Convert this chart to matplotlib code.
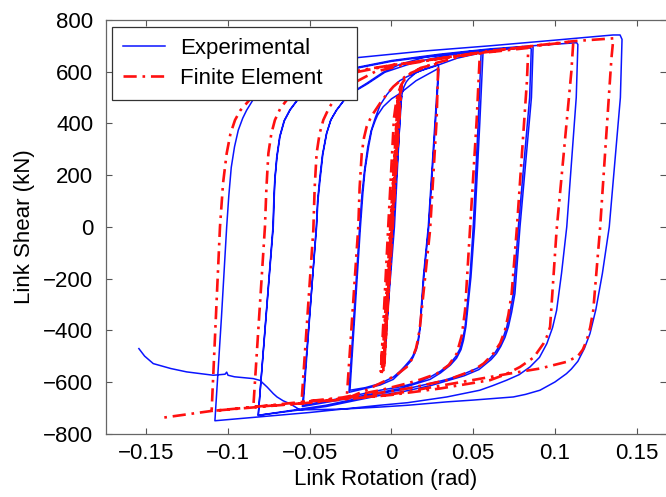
import matplotlib
matplotlib.use("Agg")
import matplotlib.pyplot as plt

plt.rcParams['font.family'] = ['Liberation Sans', 'DejaVu Sans']

# ---------------- Experimental (blue) branches: (rotation rad, shear kN) ----------------
exp_small = [(0.0, 0), (0.0050, 470), (0.0056, 490), (-0.0038, -480), (-0.0044, -500),
             (0.0058, 500), (0.0062, 505), (-0.0042, -505), (-0.0046, -515)]
exp_load1 = [(-0.0046, -515), (0.0018, 0), (0.0045, 330), (0.0055, 470), (0.0065, 515),
             (0.0075, 540), (0.0090, 560), (0.0105, 572), (0.0150, 596), (0.0210, 612),
             (0.0280, 626)]
exp_unload1 = [(0.0288, 622), (0.0225, 0), (0.0195, -194), (0.0174, -387), (0.0162, -440),
               (0.0150, -470), (0.0130, -500), (0.0113, -516), (0.0080, -540),
               (0.0050, -560), (0.0011, -581), (-0.0070, -606), (-0.0160, -622),
               (-0.0254, -632)]
exp_load1b = [(-0.0254, -632), (-0.0190, 0), (-0.0175, 130), (-0.0162, 219), (-0.0140, 310),
              (-0.0121, 374), (-0.0100, 410), (-0.0085, 432), (-0.0050, 465), (0.0000, 495),
              (0.0052, 516), (0.0150, 565), (0.0285, 612)]
exp_unload1b = [(0.0290, 608), (0.0228, 0), (0.0198, -194), (0.0176, -387), (0.0164, -445),
                (0.0152, -475), (0.0132, -505), (0.0115, -522), (0.0060, -560),
                (0.0011, -590), (-0.0070, -612), (-0.0260, -640)]
exp_load2 = [(-0.0260, -640), (-0.0195, 0), (-0.0180, 130), (-0.0165, 219), (-0.0145, 310),
             (-0.0125, 370), (-0.0100, 420), (-0.0070, 470), (-0.0030, 510), (0.0011, 542),
             (0.0050, 565), (0.0093, 580), (0.0170, 602), (0.0256, 619), (0.0400, 652),
             (0.0541, 672)]
exp_unload2 = [(0.0548, 668), (0.0530, 400), (0.0500, 0), (0.0480, -194), (0.0450, -387),
               (0.0435, -435), (0.0420, -470), (0.0395, -500), (0.0358, -529),
               (0.0300, -558), (0.0236, -581), (0.0150, -603), (0.0052, -619),
               (-0.0070, -632), (-0.0300, -662), (-0.0540, -690)]
exp_load2b = [(-0.0540, -690), (-0.0460, 0), (-0.0452, 100), (-0.0440, 181), (-0.0422, 280),
              (-0.0398, 360), (-0.0372, 412), (-0.0338, 450), (-0.0292, 488), (-0.0236, 520),
              (-0.0150, 552), (-0.0040, 598), (0.0150, 638), (0.0350, 664), (0.0555, 680)]
exp_unload2b = [(0.0560, 676), (0.0540, 400), (0.0508, 0), (0.0486, -194), (0.0455, -387),
                (0.0440, -440), (0.0425, -475), (0.0398, -508), (0.0360, -535),
                (0.0300, -565), (0.0236, -590), (0.0052, -626), (-0.0070, -640),
                (-0.0300, -668), (-0.0545, -695)]
exp_load3 = [(-0.0545, -695), (-0.0458, 0), (-0.0450, 100), (-0.0437, 181), (-0.0420, 280),
             (-0.0396, 362), (-0.0370, 415), (-0.0335, 452), (-0.0290, 490), (-0.0234, 523),
             (-0.0152, 555), (-0.0050, 598), (0.0050, 628), (0.0200, 655), (0.0500, 680),
             (0.0847, 692)]
exp_unload3 = [(0.0855, 688), (0.0845, 500), (0.0776, 0), (0.0745, -258), (0.0725, -330),
               (0.0705, -387), (0.0685, -425), (0.0660, -460), (0.0635, -485),
               (0.0603, -508), (0.0530, -545), (0.0439, -570), (0.0340, -590),
               (0.0236, -606), (0.0080, -628), (-0.0070, -645), (-0.0400, -690),
               (-0.0815, -729)]
exp_load3b = [(-0.0815, -729), (-0.0725, 0), (-0.0720, 100), (-0.0714, 181), (-0.0702, 270),
              (-0.0684, 349), (-0.0657, 410), (-0.0622, 452), (-0.0577, 490), (-0.0520, 523),
              (-0.0400, 570), (-0.0200, 615), (0.0000, 640), (0.0300, 665), (0.0600, 685),
              (0.0860, 698)]
exp_unload3b = [(0.0866, 694), (0.0856, 500), (0.0786, 0), (0.0755, -258), (0.0735, -330),
                (0.0715, -387), (0.0694, -428), (0.0668, -463), (0.0642, -490),
                (0.0610, -513), (0.0535, -552), (0.0445, -576), (0.0240, -614),
                (0.0080, -636), (-0.0070, -652), (-0.0400, -695), (-0.0815, -729)]
exp_load4 = [(-0.0815, -729), (-0.0723, 0), (-0.0718, 100), (-0.0713, 181), (-0.0700, 270),
             (-0.0682, 349), (-0.0655, 410), (-0.0620, 452), (-0.0575, 490), (-0.0519, 523),
             (-0.0460, 550), (-0.0400, 572), (-0.0300, 598), (-0.0200, 618), (0.0000, 643),
             (0.0300, 668), (0.0600, 688), (0.0900, 702), (0.1133, 712)]
exp_unload4 = [(0.1140, 705), (0.1130, 500), (0.1072, 0), (0.1040, -180), (0.1010, -323),
               (0.0985, -390), (0.0950, -452), (0.0905, -505), (0.0847, -542),
               (0.0780, -572), (0.0705, -593), (0.0620, -614), (0.0540, -632),
               (0.0338, -658), (0.0100, -680), (-0.0070, -690), (-0.0500, -718),
               (-0.1080, -750)]
exp_load5 = [(-0.1080, -750), (-0.1040, -350), (-0.1008, 0), (-0.0995, 120), (-0.0980, 230),
             (-0.0960, 310), (-0.0937, 374), (-0.0910, 420), (-0.0886, 451), (-0.0850, 488),
             (-0.0804, 523), (-0.0750, 550), (-0.0700, 570), (-0.0600, 598), (-0.0500, 620),
             (-0.0350, 640), (-0.0200, 655), (0.0200, 680), (0.0600, 700), (0.1000, 722),
             (0.1355, 742), (0.1398, 742)]
exp_unload5 = [(0.1410, 725), (0.1400, 500), (0.1332, 0), (0.1290, -180), (0.1250, -320),
               (0.1214, -413), (0.1180, -470), (0.1140, -520), (0.1100, -550),
               (0.1070, -568), (0.1000, -600), (0.0908, -632), (0.0820, -648),
               (0.0745, -658), (0.0500, -670), (0.0338, -677), (0.0100, -690),
               (-0.0070, -697), (-0.0300, -705), (-0.0560, -708), (-0.0621, -684)]
exp_failure = [(-0.0621, -684), (-0.0662, -673), (-0.0700, -658), (-0.0723, -645),
               (-0.0760, -620), (-0.0804, -594), (-0.0845, -587), (-0.0960, -580),
               (-0.1000, -574), (-0.1008, -562), (-0.1018, -570), (-0.1090, -574),
               (-0.1253, -561), (-0.1350, -548), (-0.1457, -529), (-0.1510, -500),
               (-0.1545, -471)]

# ---------------- Finite element (red) branches ----------------
fe_small = [(0.0, 0), (0.0045, 520), (-0.0045, -545), (0.0060, 548), (-0.0060, -567),
            (0.0040, 510), (-0.0050, -555), (0.0055, 540), (-0.0065, -560)]
fe_load1 = [(-0.0065, -560), (-0.0020, 0), (0.0015, 420), (0.0030, 490), (0.0045, 525),
            (0.0060, 550), (0.0085, 574), (0.0110, 590), (0.0180, 615), (0.0286, 632)]
fe_unload1 = [(0.0286, 632), (0.0276, 413), (0.0236, -12), (0.0195, -258), (0.0174, -387),
              (0.0162, -435), (0.0150, -470), (0.0125, -512), (0.0093, -542),
              (0.0030, -573), (-0.0030, -593), (-0.0150, -630), (-0.0274, -664)]
fe_load2 = [(-0.0274, -664), (-0.0203, 0), (-0.0195, 150), (-0.0182, 284), (-0.0168, 345),
            (-0.0152, 387), (-0.0130, 418), (-0.0110, 440), (-0.0070, 478), (-0.0030, 512),
            (0.0011, 542), (0.0100, 590), (0.0250, 630), (0.0400, 655), (0.0541, 677)]
fe_unload2 = [(0.0541, 677), (0.0521, 413), (0.0480, -12), (0.0450, -323), (0.0430, -420),
              (0.0399, -490), (0.0350, -535), (0.0277, -568), (0.0180, -590),
              (0.0093, -606), (-0.0070, -632), (-0.0300, -660), (-0.0550, -677)]
fe_load3 = [(-0.0550, -677), (-0.0478, -12), (-0.0470, 150), (-0.0458, 284), (-0.0440, 360),
            (-0.0417, 413), (-0.0380, 463), (-0.0335, 503), (-0.0250, 550), (-0.0100, 600),
            (0.0100, 630), (0.0400, 662), (0.0837, 692)]
fe_unload3 = [(0.0837, 692), (0.0828, 560), (0.0766, -12), (0.0735, -258), (0.0715, -340),
              (0.0694, -400), (0.0665, -450), (0.0623, -490), (0.0565, -528),
              (0.0500, -555), (0.0338, -593), (0.0100, -625), (-0.0200, -655),
              (-0.0500, -680), (-0.0845, -697)]
fe_load4 = [(-0.0845, -697), (-0.0774, 0), (-0.0765, 150), (-0.0753, 284), (-0.0735, 360),
            (-0.0713, 413), (-0.0680, 458), (-0.0641, 490), (-0.0550, 530), (-0.0400, 565),
            (-0.0200, 600), (0.0000, 625), (0.0300, 652), (0.0600, 680), (0.0900, 702),
            (0.1112, 716)]
fe_unload4 = [(0.1112, 716), (0.1100, 600), (0.1010, -12), (0.0990, -200), (0.0970, -387),
              (0.0950, -425), (0.0929, -452), (0.0870, -505), (0.0786, -542),
              (0.0700, -570), (0.0603, -593), (0.0300, -625), (0.0000, -650),
              (-0.0500, -680), (-0.1100, -712)]
fe_load5 = [(-0.1100, -712), (-0.1049, 0), (-0.1030, 170), (-0.1008, 284), (-0.0985, 360),
            (-0.0957, 413), (-0.0925, 450), (-0.0886, 478), (-0.0850, 505), (-0.0804, 529),
            (-0.0730, 550), (-0.0650, 565), (-0.0400, 590), (-0.0200, 605), (0.0000, 625),
            (0.0400, 660), (0.0800, 695), (0.1112, 718), (0.1357, 729)]
fe_unload5 = [(0.1357, 729), (0.1345, 650), (0.1275, -12), (0.1234, -323), (0.1215, -390),
              (0.1194, -439), (0.1170, -475), (0.1140, -500), (0.1072, -522),
              (0.0908, -548), (0.0745, -565), (0.0338, -610), (-0.0030, -651),
              (-0.0274, -664), (-0.0545, -677), (-0.0845, -697), (-0.1100, -712),
              (-0.1396, -738)]

exp_branches = [exp_small, exp_load1, exp_unload1, exp_load1b, exp_unload1b, exp_load2,
                exp_unload2, exp_load2b, exp_unload2b, exp_load3, exp_unload3, exp_load3b,
                exp_unload3b, exp_load4, exp_unload4, exp_load5, exp_unload5, exp_failure]
fe_branches = [fe_small, fe_load1, fe_unload1, fe_load2, fe_unload2, fe_load3, fe_unload3,
               fe_load4, fe_unload4, fe_load5, fe_unload5]

x_ticks = [-0.15, -0.1, -0.05, 0, 0.05, 0.1, 0.15]
x_tick_labels = ['\u22120.15', '\u22120.1', '\u22120.05', '0', '0.05', '0.1', '0.15']
y_ticks = [-800, -600, -400, -200, 0, 200, 400, 600, 800]
y_tick_labels = ['\u2212800', '\u2212600', '\u2212400', '\u2212200', '0', '200', '400', '600', '800']


def flatten(branches):
    xs, ys = [], []
    for b in branches:
        for x, y in b:
            xs.append(x)
            ys.append(y)
    return xs, ys


exp_x, exp_y = flatten(exp_branches)
fe_x, fe_y = flatten(fe_branches)

fig = plt.figure(figsize=(6.66, 4.97), dpi=100)
ax = fig.add_axes([0.1587, 0.1274, 0.8413, 0.8324])

ax.plot(exp_x, exp_y, color='#0a14ff', lw=1.1, label='Experimental', zorder=2,
        solid_joinstyle='round')
ax.plot(fe_x, fe_y, color='#ff1010', lw=1.9, linestyle=(0, (5, 2.2, 1, 2.2)),
        label='Finite Element', zorder=3)

ax.set_xlim(-0.1748, 0.1679)
ax.set_ylim(-800, 800)
ax.set_xticks(x_ticks)
ax.set_xticklabels(x_tick_labels)
ax.set_yticks(y_ticks)
ax.set_yticklabels(y_tick_labels)
ax.tick_params(direction='in', top=True, right=True, length=4, width=0.8,
               color='#555555', labelsize=16)
ax.tick_params(axis='x', pad=7)
ax.tick_params(axis='y', pad=9)
for s in ax.spines.values():
    s.set_color('#666666')
    s.set_linewidth(0.9)
ax.spines['right'].set_visible(False)

ax.set_xlabel('Link Rotation (rad)', fontsize=16, labelpad=3)
ax.set_ylabel('Link Shear (kN)', fontsize=16, labelpad=6)

leg = ax.legend(loc='upper left', bbox_to_anchor=(0.0112, 0.983, 0.438, 0.0), mode='expand',
                borderaxespad=0, fontsize=16, fancybox=False, framealpha=1,
                edgecolor='#333333', handlelength=1.9, handletextpad=0.65,
                borderpad=0.5, labelspacing=0.4)
leg.get_frame().set_linewidth(0.9)

fig.savefig('out.png', dpi=100)
